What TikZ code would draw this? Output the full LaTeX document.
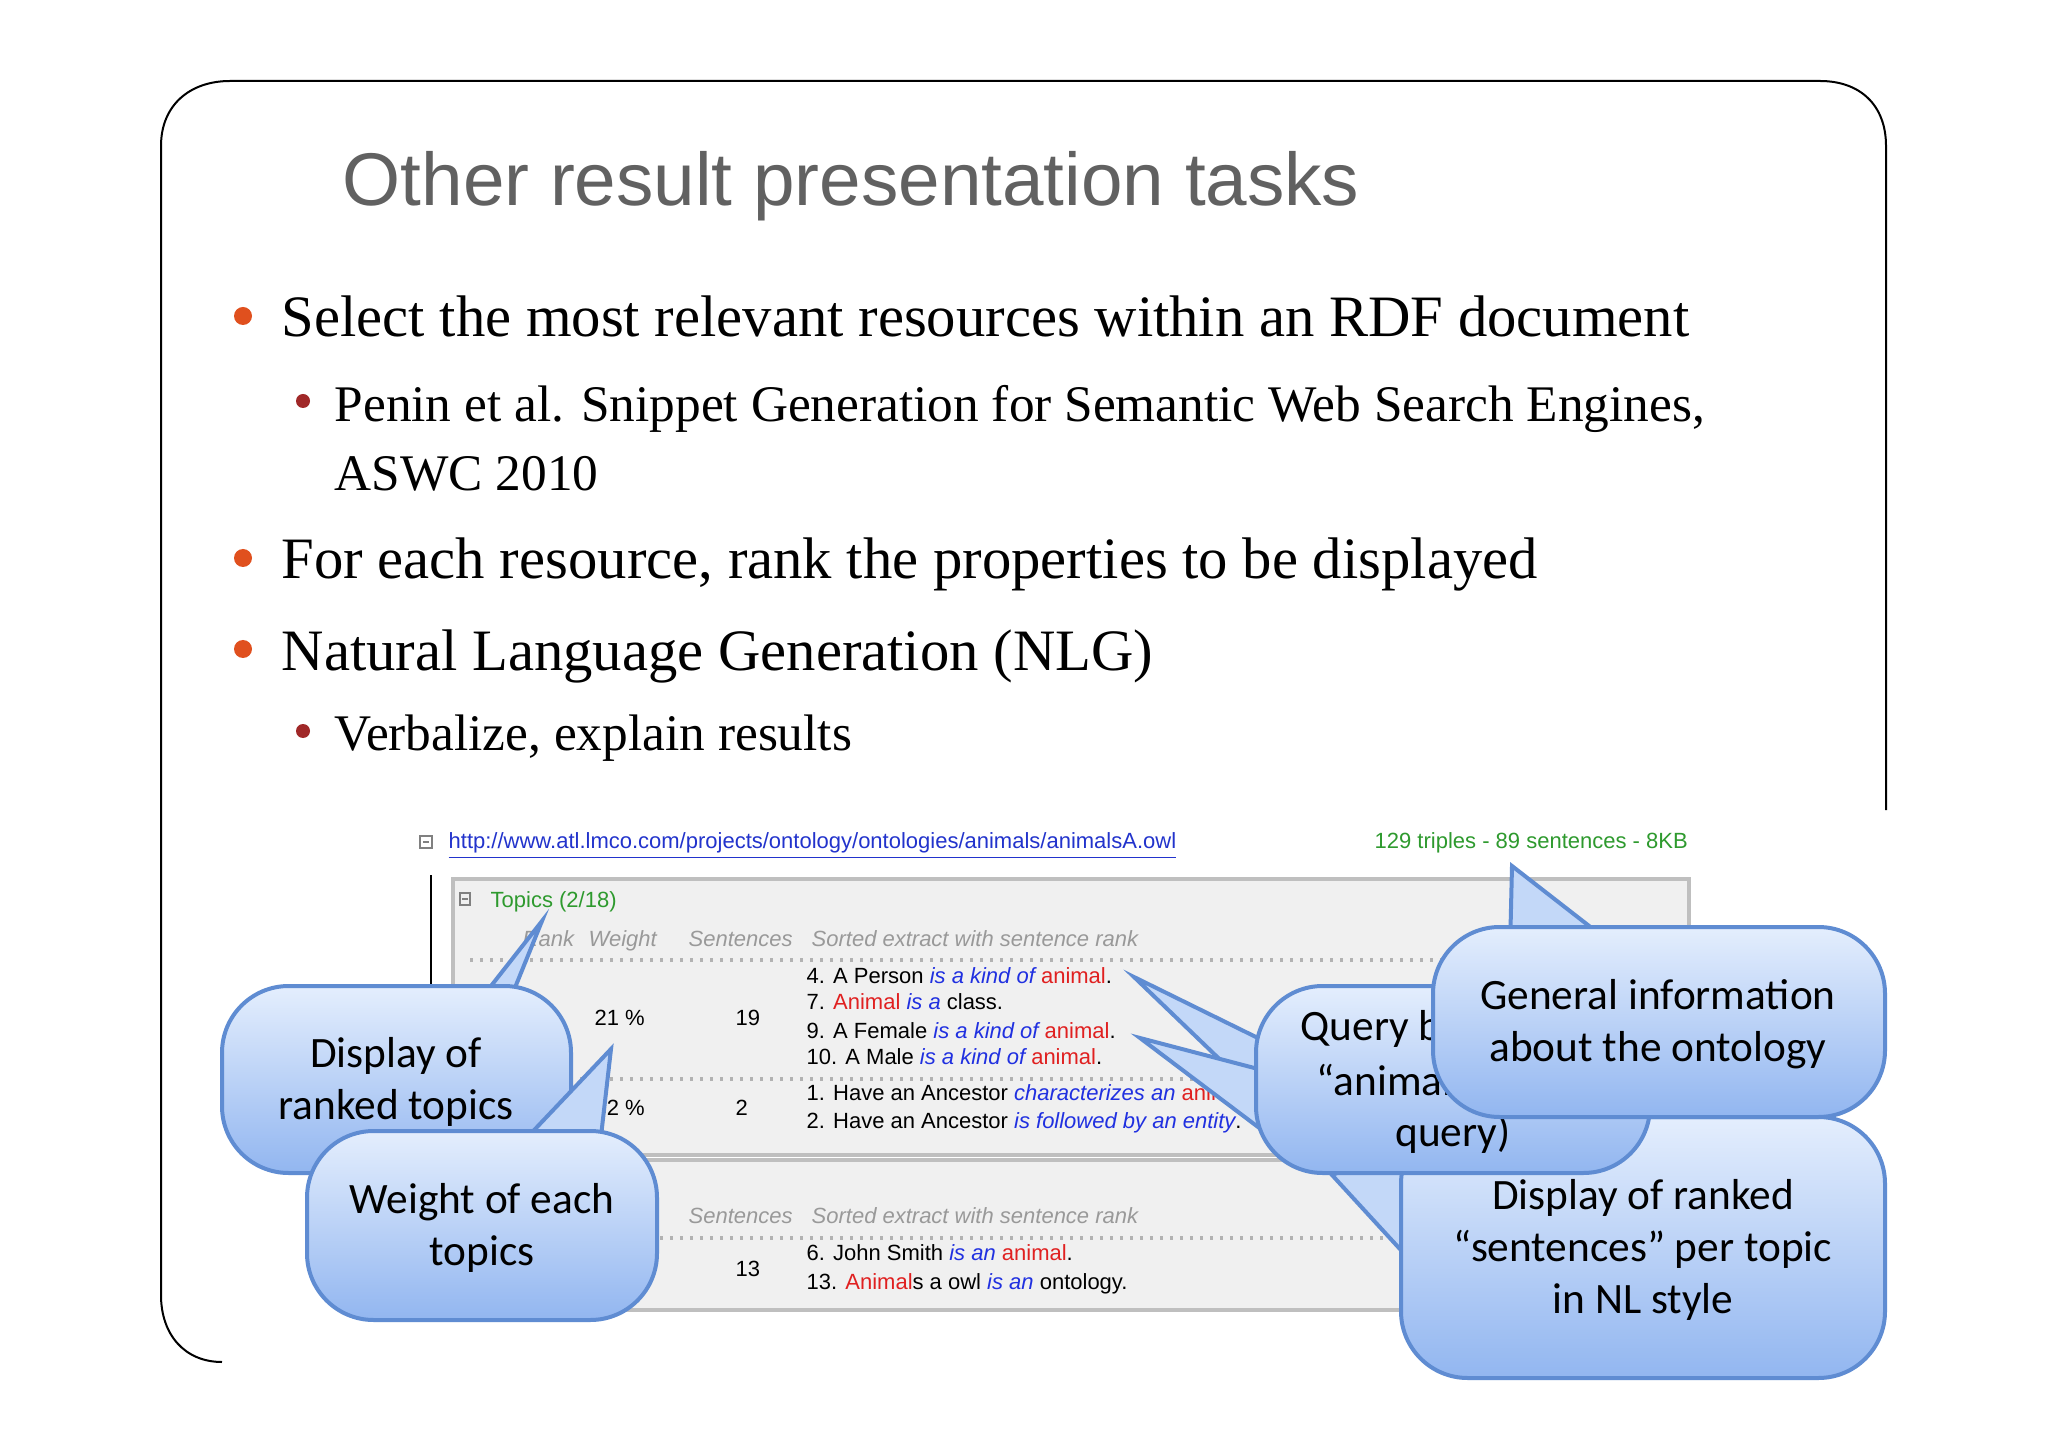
\documentclass[tikz,border=0pt]{standalone}
\usepackage{fontspec}
\setmainfont{Liberation Serif}
\newfontfamily\titlefont{Liberation Sans}
\newfontfamily\callfont{Carlito}
\newfontfamily\shotfont{Liberation Sans}
\definecolor{bulor}{HTML}{E0501E}
\definecolor{bulred}{HTML}{A02828}
\definecolor{cbord}{HTML}{5F8CD2}
\definecolor{ctop}{HTML}{E4EEFD}
\definecolor{cbot}{HTML}{92B6F0}
\definecolor{lnk}{HTML}{2233CC}
\definecolor{grn}{HTML}{2E9A2E}
\definecolor{rd}{HTML}{E02020}
\definecolor{bl}{HTML}{2030E0}
\definecolor{panel}{HTML}{F0F0F0}
\begin{document}
\begin{tikzpicture}[x=0.3pt,y=-0.3pt,
  bt/.style={anchor=base west,inner sep=0pt,font=\fontsize{17.6}{20}\selectfont},
  st/.style={anchor=base west,inner sep=0pt,font=\fontsize{15.4}{18}\selectfont},
  sh/.style={anchor=base west,inner sep=0pt,font=\shotfont\fontsize{6.6}{8}\selectfont},
  shh/.style={sh,text=gray!80,font=\shotfont\itshape\fontsize{6.6}{8}\selectfont},
  callbox/.style={draw=cbord,line width=1.2pt,rounded corners=20,top color=ctop,bottom color=cbot},
  calltail/.style={draw=cbord,line width=1.2pt,fill=ctop!60!cbot},
  ct/.style={font=\callfont\fontsize{13}{15.5}\selectfont,align=center,inner sep=0pt}]
\useasboundingbox (0,0) rectangle (2048,1447);
\fill[white] (0,0) rectangle (2048,1447);
% frame
\draw[line width=0.6pt] (222,1362) .. controls (185,1362) and (161,1335) .. (161,1295) -- (161,146) .. controls (161,105) and (190,81) .. (230,81) -- (1820,81) .. controls (1860,81) and (1886,105) .. (1886,146) -- (1886,810);
% title
\node[anchor=base west,inner sep=0pt,text=black!62,font=\titlefont\fontsize{22.4}{25}\selectfont] (title) at (342,206) {Other result presentation tasks};
% bullets
\fill[bulor] (243,316) circle (9) coordinate (b1);
\node[bt] (t1) at (281,337) {Select the most relevant resources within an RDF document};
\fill[bulred] (303,401) circle (7) coordinate (s1);
\node[st] (u1) at (334,422) {Penin et al. Snippet Generation for Semantic Web Search Engines,};
\node[st] (u2) at (334,491) {ASWC 2010};
\fill[bulor] (243,558) circle (9) coordinate (b2);
\node[bt] (t2) at (281,579) {For each resource, rank the properties to be displayed};
\fill[bulor] (243,649) circle (9) coordinate (b3);
\node[bt] (t3) at (281,670) {Natural Language Generation (NLG)};
\fill[bulred] (303,731) circle (7) coordinate (s2);
\node[st] (u3) at (334,751) {Verbalize, explain results};
% screenshot
\draw[gray,line width=0.5pt] (420,836) rectangle (432,848);
\draw[gray] (423,842) -- (429,842);
\node[sh,text=lnk] (url) at (448,848) {\underline{http://www.atl.lmco.com/projects/ontology/ontologies/animals/animalsA.owl}};
\node[sh,text=grn] (stats) at (1374,848) {129 triples - 89 sentences - 8KB};
\draw[line width=0.8pt] (431,875) -- (431,985);
\draw[black!25,fill=panel,line width=1pt] (453,879) rectangle (1689,1155);
\draw[black!25,fill=panel,line width=1pt] (453,1160) rectangle (1689,1310);
\draw[gray] (460,893) rectangle (470,905);\draw[gray](462,899)--(468,899);
\node[sh,text=grn] (topics) at (490,907) {Topics (2/18)};
\node[shh] at (522,946) {Rank};\node[shh] at (588,946) {Weight};\node[shh] at (688,946) {Sentences};\node[shh] at (811,946) {Sorted extract with sentence rank};
\draw[gray!60,dotted,line width=1pt] (470,960) -- (1680,960);
\node[sh] at (594,1025) {21 \%};\node[sh] at (735,1025) {19};
\node[sh] at (806,983) {4. A Person \textcolor{bl}{\itshape is a kind of} \textcolor{rd}{animal}.};
\node[sh] at (806,1009) {7. \textcolor{rd}{Animal} \textcolor{bl}{\itshape is a} class.};
\node[sh] at (806,1038) {9. A Female \textcolor{bl}{\itshape is a kind of} \textcolor{rd}{animal}.};
\node[sh] at (806,1064) {10. A Male \textcolor{bl}{\itshape is a kind of} \textcolor{rd}{animal}.};
\draw[gray!60,dotted,line width=1pt] (470,1079) -- (1680,1079);
\node[sh] at (594,1115) {32 \%};\node[sh] at (735,1115) {2};
\node[sh] at (806,1100) {1. Have an Ancestor \textcolor{bl}{\itshape characterizes an} \textcolor{rd}{animal}.};
\node[sh] at (806,1128) {2. Have an Ancestor \textcolor{bl}{\itshape is followed by an entity}.};
\node[sh,text=grn] at (490,1184) {Top Sentences};
\node[shh] at (688,1223) {Sentences};\node[shh] at (811,1223) {Sorted extract with sentence rank};
\draw[gray!60,dotted,line width=1pt] (470,1238) -- (1680,1238);
\node[sh] at (735,1276) {13};
\node[sh] at (806,1260) {6. John Smith \textcolor{bl}{\itshape is an} \textcolor{rd}{animal}.};
\node[sh] at (806,1289) {13. \textcolor{rd}{Animal}s a owl \textcolor{bl}{\itshape is an} ontology.};
% callout 5
\coordinate (p5) at (1332,1175);
\draw[calltail] (p5) -- (1450,1130) -- (1410,1260) -- cycle;
\draw[callbox] (1401,1117) rectangle (1885,1378);
\node[ct] (c5) at (1643,1250) {Display of ranked\\“sentences” per topic\\in NL style};
% callout 3
\coordinate (p3a) at (1134,977);\coordinate (p3b) at (1140,1038);
\draw[calltail] (p3a) -- (1262,1040) -- (1262,1100) -- cycle;
\draw[calltail] (p3b) -- (1262,1070) -- (1262,1130) -- cycle;
\draw[callbox] (1256,986) rectangle (1650,1173);
\node[ct,anchor=base west] (c3a) at (1300,1040) {Query by};
\node[ct,anchor=base west] (c3b) at (1316,1095) {“animal” (entity};
\node[ct] (c3c) at (1453,1134) {query)};
% callout 4
\coordinate (p4) at (1512,866);
\draw[calltail] (p4) -- (1510,950) -- (1620,950) -- cycle;
\draw[callbox] (1433,927) rectangle (1885,1117);
\node[ct] (c4) at (1658,1024) {General information\\about the ontology};
% callout 1
\coordinate (p1) at (542,921);
\draw[calltail] (p1) -- (480,1000) -- (510,1000) -- cycle;
\draw[callbox] (222,986) rectangle (571,1173);
\node[ct] (c1) at (396,1082) {Display of\\ranked topics};
% callout 2
\coordinate (p2) at (611,1049);
\draw[calltail] (p2) -- (520,1145) -- (600,1145) -- cycle;
\draw[callbox] (307,1131) rectangle (657,1320);
\node[ct] (c2) at (482,1228) {Weight of each\\topics};
\end{tikzpicture}
\end{document}
